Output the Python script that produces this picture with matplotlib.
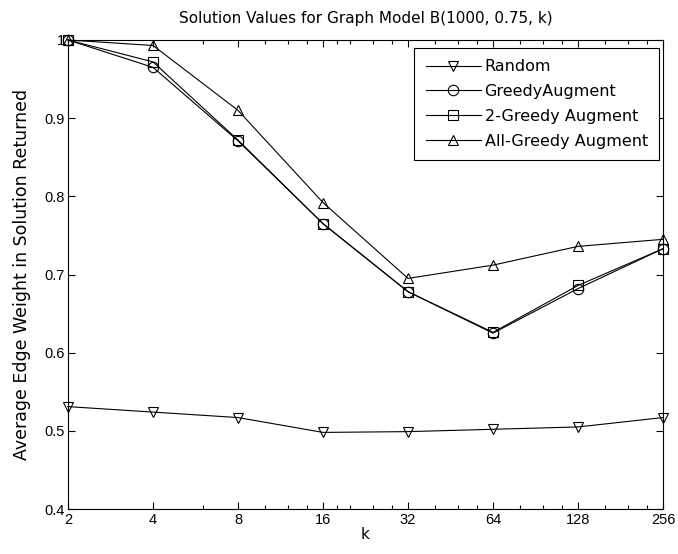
import matplotlib
matplotlib.use('Agg')
import matplotlib.pyplot as plt
from matplotlib.ticker import FixedLocator, NullFormatter
import numpy as np

plt.rcParams['font.family'] = ['DejaVu Sans']

k = [2, 4, 8, 16, 32, 64, 128, 256]
random_vals = [0.531, 0.524, 0.517, 0.498, 0.499, 0.502, 0.505, 0.517]
greedy_vals = [1.0, 0.965, 0.871, 0.765, 0.678, 0.625, 0.682, 0.733]
greedy2_vals = [1.0, 0.972, 0.872, 0.765, 0.678, 0.626, 0.686, 0.733]
allgreedy_vals = [1.0, 0.993, 0.910, 0.792, 0.695, 0.712, 0.736, 0.745]
tick_labels = ['2', '4', '8', '16', '32', '64', '128', '256']
minor_k = [6, 10, 12, 14, 18, 20, 24, 28, 40, 48, 56, 80, 96, 112, 160, 192, 224]

fig = plt.figure(figsize=(6.78, 5.54), dpi=100)
ax = fig.add_axes([0.1003, 0.0812, 0.8776, 0.8466])

style = dict(color='black', lw=0.8, markersize=7.5, markerfacecolor='none',
             markeredgecolor='black', markeredgewidth=0.8, clip_on=False)
ax.plot(k, random_vals, marker='v', label='Random', **style)
ax.plot(k, greedy_vals, marker='o', label='GreedyAugment', **style)
ax.plot(k, greedy2_vals, marker='s', label='2-Greedy Augment', **style)
ax.plot(k, allgreedy_vals, marker='^', label='All-Greedy Augment', **style)

ax.set_xscale('log', base=2)
ax.set_xlim(2, 256)
ax.set_ylim(0.4, 1.0)
ax.xaxis.set_major_locator(FixedLocator(k))
ax.set_xticklabels(tick_labels)
ax.xaxis.set_minor_locator(FixedLocator(minor_k))
ax.xaxis.set_minor_formatter(NullFormatter())
ax.set_yticks(np.arange(0.4, 1.01, 0.1))
ax.set_yticklabels(['0.4', '0.5', '0.6', '0.7', '0.8', '0.9', '1'])

ax.tick_params(axis='both', which='both', direction='in', top=True, right=True)
ax.tick_params(which='major', length=5, width=0.8)
ax.tick_params(which='minor', length=3, width=0.8)
ax.tick_params(axis='x', pad=3)
ax.tick_params(axis='y', pad=2)
for lab in ax.get_xticklabels() + ax.get_yticklabels():
    lab.set_fontfamily('Liberation Sans')
    lab.set_fontsize(10.5)
for s in ax.spines.values():
    s.set_linewidth(0.8)

ax.set_xlabel('k', fontsize=11, labelpad=0)
ax.set_ylabel('Average Edge Weight in Solution Returned', fontsize=12.5)
ax.yaxis.set_label_coords(-0.063, 0.5)
ax.set_title('Solution Values for Graph Model B(1000, 0.75, k)', fontsize=11, pad=12)

leg = ax.legend(loc='upper right', bbox_to_anchor=(0.9933, 0.983), borderaxespad=0,
                fontsize=11.5, fancybox=False, edgecolor='black', framealpha=1,
                handlelength=3.5, handletextpad=0.2, borderpad=0.7, labelspacing=0.62)
leg.get_frame().set_linewidth(0.8)

fig.savefig('out.png', dpi=100)
